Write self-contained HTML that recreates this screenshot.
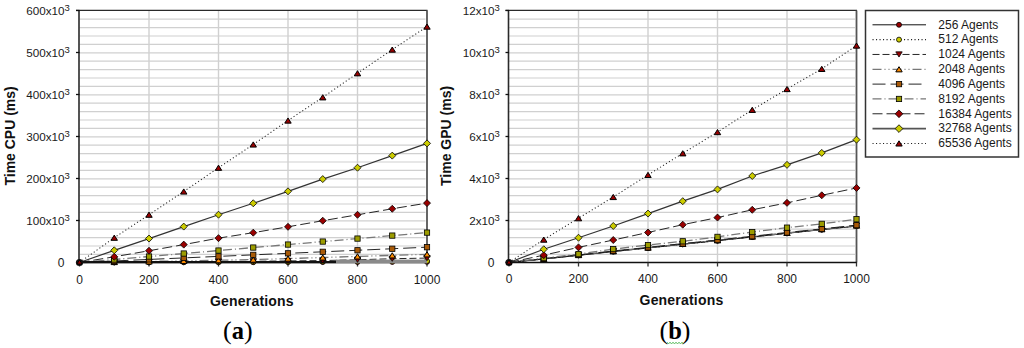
<!DOCTYPE html>
<html><head><meta charset="utf-8"><style>
html,body{margin:0;padding:0;background:#fff;width:1024px;height:348px;overflow:hidden}
svg{display:block;font-family:"Liberation Sans", sans-serif}
</style></head><body>
<svg width="1024" height="348" viewBox="0 0 1024 348">
<rect width="1024" height="348" fill="#fff"/>
<line x1="79.50" y1="254.40" x2="425.50" y2="254.40" stroke="#d0d0d0" stroke-width="1.2"/>
<line x1="79.50" y1="246.00" x2="425.50" y2="246.00" stroke="#d0d0d0" stroke-width="1.2"/>
<line x1="79.50" y1="237.60" x2="425.50" y2="237.60" stroke="#d0d0d0" stroke-width="1.2"/>
<line x1="79.50" y1="229.20" x2="425.50" y2="229.20" stroke="#d0d0d0" stroke-width="1.2"/>
<line x1="79.50" y1="220.80" x2="425.50" y2="220.80" stroke="#d0d0d0" stroke-width="1.2"/>
<line x1="79.50" y1="212.40" x2="425.50" y2="212.40" stroke="#d0d0d0" stroke-width="1.2"/>
<line x1="79.50" y1="204.00" x2="425.50" y2="204.00" stroke="#d0d0d0" stroke-width="1.2"/>
<line x1="79.50" y1="195.60" x2="425.50" y2="195.60" stroke="#d0d0d0" stroke-width="1.2"/>
<line x1="79.50" y1="187.20" x2="425.50" y2="187.20" stroke="#d0d0d0" stroke-width="1.2"/>
<line x1="79.50" y1="178.80" x2="425.50" y2="178.80" stroke="#d0d0d0" stroke-width="1.2"/>
<line x1="79.50" y1="170.40" x2="425.50" y2="170.40" stroke="#d0d0d0" stroke-width="1.2"/>
<line x1="79.50" y1="162.00" x2="425.50" y2="162.00" stroke="#d0d0d0" stroke-width="1.2"/>
<line x1="79.50" y1="153.60" x2="425.50" y2="153.60" stroke="#d0d0d0" stroke-width="1.2"/>
<line x1="79.50" y1="145.20" x2="425.50" y2="145.20" stroke="#d0d0d0" stroke-width="1.2"/>
<line x1="79.50" y1="136.80" x2="425.50" y2="136.80" stroke="#d0d0d0" stroke-width="1.2"/>
<line x1="79.50" y1="128.40" x2="425.50" y2="128.40" stroke="#d0d0d0" stroke-width="1.2"/>
<line x1="79.50" y1="120.00" x2="425.50" y2="120.00" stroke="#d0d0d0" stroke-width="1.2"/>
<line x1="79.50" y1="111.60" x2="425.50" y2="111.60" stroke="#d0d0d0" stroke-width="1.2"/>
<line x1="79.50" y1="103.20" x2="425.50" y2="103.20" stroke="#d0d0d0" stroke-width="1.2"/>
<line x1="79.50" y1="94.80" x2="425.50" y2="94.80" stroke="#d0d0d0" stroke-width="1.2"/>
<line x1="79.50" y1="86.40" x2="425.50" y2="86.40" stroke="#d0d0d0" stroke-width="1.2"/>
<line x1="79.50" y1="78.00" x2="425.50" y2="78.00" stroke="#d0d0d0" stroke-width="1.2"/>
<line x1="79.50" y1="69.60" x2="425.50" y2="69.60" stroke="#d0d0d0" stroke-width="1.2"/>
<line x1="79.50" y1="61.20" x2="425.50" y2="61.20" stroke="#d0d0d0" stroke-width="1.2"/>
<line x1="79.50" y1="52.80" x2="425.50" y2="52.80" stroke="#d0d0d0" stroke-width="1.2"/>
<line x1="79.50" y1="44.40" x2="425.50" y2="44.40" stroke="#d0d0d0" stroke-width="1.2"/>
<line x1="79.50" y1="36.00" x2="425.50" y2="36.00" stroke="#d0d0d0" stroke-width="1.2"/>
<line x1="79.50" y1="27.60" x2="425.50" y2="27.60" stroke="#d0d0d0" stroke-width="1.2"/>
<line x1="79.50" y1="19.20" x2="425.50" y2="19.20" stroke="#d0d0d0" stroke-width="1.2"/>
<line x1="149.00" y1="10.50" x2="149.00" y2="262.50" stroke="#d0d0d0" stroke-width="1.4"/>
<line x1="218.50" y1="10.50" x2="218.50" y2="262.50" stroke="#d0d0d0" stroke-width="1.4"/>
<line x1="288.00" y1="10.50" x2="288.00" y2="262.50" stroke="#d0d0d0" stroke-width="1.4"/>
<line x1="357.50" y1="10.50" x2="357.50" y2="262.50" stroke="#d0d0d0" stroke-width="1.4"/>
<line x1="76.00" y1="10.40" x2="427.50" y2="10.40" stroke="#2a2a2a" stroke-width="1.2"/>
<line x1="427.00" y1="10.50" x2="427.00" y2="262.50" stroke="#555" stroke-width="1.8"/>
<polyline points="79.50,262.50 114.25,262.44 149.00,262.37 183.75,262.31 218.50,262.25 253.25,262.19 288.00,262.12 322.75,262.06 357.50,262.00 392.25,261.93 427.00,261.87" fill="none" stroke="#111" stroke-width="1.00"/>
<polyline points="79.50,262.50 114.25,262.37 149.00,262.25 183.75,262.12 218.50,262.00 253.25,261.83 288.00,261.66 322.75,261.49 357.50,261.32 392.25,261.16 427.00,260.99" fill="none" stroke="#222" stroke-width="1.05" stroke-dasharray="1.1 2.4"/>
<polyline points="79.50,262.50 114.25,262.29 149.00,262.08 183.75,261.83 218.50,261.53 253.25,261.24 288.00,260.95 322.75,260.57 357.50,259.77 392.25,258.72 427.00,258.09" fill="none" stroke="#1a1a1a" stroke-width="0.95" stroke-dasharray="7 3"/>
<polyline points="79.50,262.50 114.25,262.00 149.00,261.45 183.75,260.86 218.50,260.23 253.25,259.60 288.00,258.59 322.75,257.50 357.50,256.41 392.25,255.36 427.00,254.31" fill="none" stroke="#777" stroke-width="1.30" stroke-dasharray="9 3 1 3 1 3"/>
<polyline points="79.50,262.50 114.25,260.97 149.00,259.44 183.75,257.91 218.50,256.38 253.25,254.86 288.00,253.33 322.75,251.80 357.50,250.27 392.25,248.74 427.00,247.21" fill="none" stroke="#1a1a1a" stroke-width="0.95" stroke-dasharray="13 5"/>
<polyline points="79.50,262.50 114.25,259.51 149.00,256.52 183.75,253.53 218.50,250.54 253.25,247.55 288.00,244.56 322.75,241.57 357.50,238.58 392.25,235.59 427.00,232.60" fill="none" stroke="#777" stroke-width="1.30" stroke-dasharray="9 3 1 3"/>
<polyline points="79.50,262.50 114.25,256.79 149.00,250.74 183.75,244.61 218.50,238.14 253.25,232.68 288.00,226.80 322.75,220.71 357.50,214.79 392.25,208.78 427.00,203.11" fill="none" stroke="#1a1a1a" stroke-width="0.95" stroke-dasharray="10 4"/>
<polyline points="79.50,262.50 114.25,250.32 149.00,238.56 183.75,226.59 218.50,214.70 253.25,203.28 288.00,191.31 322.75,179.09 357.50,167.71 392.25,155.61 427.00,143.39" fill="none" stroke="#333" stroke-width="1.20"/>
<polyline points="79.50,262.50 114.25,237.72 149.00,214.70 183.75,191.52 218.50,167.75 253.25,144.48 288.00,120.54 322.75,97.31 357.50,73.29 392.25,49.60 427.00,26.59" fill="none" stroke="#222" stroke-width="1.05" stroke-dasharray="1.1 2.4"/>
<line x1="79.00" y1="10.00" x2="79.00" y2="263.00" stroke="#2a2a2a" stroke-width="1.6"/>
<line x1="78.10" y1="262.50" x2="427.50" y2="262.50" stroke="#111" stroke-width="1.6"/>
<line x1="76.00" y1="262.50" x2="79.50" y2="262.50" stroke="#111" stroke-width="1.3"/>
<line x1="76.00" y1="220.50" x2="79.50" y2="220.50" stroke="#111" stroke-width="1.3"/>
<line x1="76.00" y1="178.50" x2="79.50" y2="178.50" stroke="#111" stroke-width="1.3"/>
<line x1="76.00" y1="136.50" x2="79.50" y2="136.50" stroke="#111" stroke-width="1.3"/>
<line x1="76.00" y1="94.50" x2="79.50" y2="94.50" stroke="#111" stroke-width="1.3"/>
<line x1="76.00" y1="52.50" x2="79.50" y2="52.50" stroke="#111" stroke-width="1.3"/>
<line x1="76.00" y1="10.50" x2="79.50" y2="10.50" stroke="#111" stroke-width="1.3"/>
<line x1="79.50" y1="262.50" x2="79.50" y2="266.50" stroke="#333" stroke-width="1.3"/>
<line x1="149.00" y1="262.50" x2="149.00" y2="266.50" stroke="#333" stroke-width="1.3"/>
<line x1="218.50" y1="262.50" x2="218.50" y2="266.50" stroke="#333" stroke-width="1.3"/>
<line x1="288.00" y1="262.50" x2="288.00" y2="266.50" stroke="#333" stroke-width="1.3"/>
<line x1="357.50" y1="262.50" x2="357.50" y2="266.50" stroke="#333" stroke-width="1.3"/>
<line x1="427.00" y1="262.50" x2="427.00" y2="266.50" stroke="#333" stroke-width="1.3"/>
<circle cx="114.25" cy="262.44" r="2.50" fill="#990000" stroke="#000" stroke-width="0.8"/>
<circle cx="149.00" cy="262.37" r="2.50" fill="#990000" stroke="#000" stroke-width="0.8"/>
<circle cx="183.75" cy="262.31" r="2.50" fill="#990000" stroke="#000" stroke-width="0.8"/>
<circle cx="218.50" cy="262.25" r="2.50" fill="#990000" stroke="#000" stroke-width="0.8"/>
<circle cx="253.25" cy="262.19" r="2.50" fill="#990000" stroke="#000" stroke-width="0.8"/>
<circle cx="288.00" cy="262.12" r="2.50" fill="#990000" stroke="#000" stroke-width="0.8"/>
<circle cx="322.75" cy="262.06" r="2.50" fill="#990000" stroke="#000" stroke-width="0.8"/>
<circle cx="357.50" cy="262.00" r="2.50" fill="#990000" stroke="#000" stroke-width="0.8"/>
<circle cx="392.25" cy="261.93" r="2.50" fill="#990000" stroke="#000" stroke-width="0.8"/>
<circle cx="427.00" cy="261.87" r="2.50" fill="#990000" stroke="#000" stroke-width="0.8"/>
<circle cx="114.25" cy="262.37" r="2.50" fill="#cccc00" stroke="#000" stroke-width="0.8"/>
<circle cx="149.00" cy="262.25" r="2.50" fill="#cccc00" stroke="#000" stroke-width="0.8"/>
<circle cx="183.75" cy="262.12" r="2.50" fill="#cccc00" stroke="#000" stroke-width="0.8"/>
<circle cx="218.50" cy="262.00" r="2.50" fill="#cccc00" stroke="#000" stroke-width="0.8"/>
<circle cx="253.25" cy="261.83" r="2.50" fill="#cccc00" stroke="#000" stroke-width="0.8"/>
<circle cx="288.00" cy="261.66" r="2.50" fill="#cccc00" stroke="#000" stroke-width="0.8"/>
<circle cx="322.75" cy="261.49" r="2.50" fill="#cccc00" stroke="#000" stroke-width="0.8"/>
<circle cx="357.50" cy="261.32" r="2.50" fill="#cccc00" stroke="#000" stroke-width="0.8"/>
<circle cx="392.25" cy="261.16" r="2.50" fill="#cccc00" stroke="#000" stroke-width="0.8"/>
<circle cx="427.00" cy="260.99" r="2.50" fill="#cccc00" stroke="#000" stroke-width="0.8"/>
<rect x="80" y="261" width="256" height="2.2" fill="#111"/>
<rect x="336" y="259.6" width="91" height="3.7" fill="#8a8a8a"/>
<path d="M114.25 264.89L117.45 259.69L111.05 259.69Z" fill="#990000" stroke="#000" stroke-width="0.8"/>
<path d="M149.00 264.68L152.20 259.48L145.80 259.48Z" fill="#990000" stroke="#000" stroke-width="0.8"/>
<path d="M183.75 264.43L186.95 259.23L180.55 259.23Z" fill="#990000" stroke="#000" stroke-width="0.8"/>
<path d="M218.50 264.13L221.70 258.93L215.30 258.93Z" fill="#990000" stroke="#000" stroke-width="0.8"/>
<path d="M253.25 263.84L256.45 258.64L250.05 258.64Z" fill="#990000" stroke="#000" stroke-width="0.8"/>
<path d="M288.00 263.55L291.20 258.35L284.80 258.35Z" fill="#990000" stroke="#000" stroke-width="0.8"/>
<path d="M322.75 263.17L325.95 257.97L319.55 257.97Z" fill="#990000" stroke="#000" stroke-width="0.8"/>
<path d="M357.50 262.37L360.70 257.17L354.30 257.17Z" fill="#990000" stroke="#000" stroke-width="0.8"/>
<path d="M392.25 261.32L395.45 256.12L389.05 256.12Z" fill="#990000" stroke="#000" stroke-width="0.8"/>
<path d="M427.00 260.69L430.20 255.49L423.80 255.49Z" fill="#990000" stroke="#000" stroke-width="0.8"/>
<path d="M114.25 259.40L117.45 264.60L111.05 264.60Z" fill="#ff8c00" stroke="#000" stroke-width="1.0"/>
<path d="M149.00 258.85L152.20 264.05L145.80 264.05Z" fill="#ff8c00" stroke="#000" stroke-width="1.0"/>
<path d="M183.75 258.26L186.95 263.46L180.55 263.46Z" fill="#ff8c00" stroke="#000" stroke-width="1.0"/>
<path d="M218.50 257.63L221.70 262.83L215.30 262.83Z" fill="#ff8c00" stroke="#000" stroke-width="1.0"/>
<path d="M253.25 257.00L256.45 262.20L250.05 262.20Z" fill="#ff8c00" stroke="#000" stroke-width="1.0"/>
<path d="M288.00 255.99L291.20 261.19L284.80 261.19Z" fill="#ff8c00" stroke="#000" stroke-width="1.0"/>
<path d="M322.75 254.90L325.95 260.10L319.55 260.10Z" fill="#ff8c00" stroke="#000" stroke-width="1.0"/>
<path d="M357.50 253.81L360.70 259.01L354.30 259.01Z" fill="#ff8c00" stroke="#000" stroke-width="1.0"/>
<path d="M392.25 252.76L395.45 257.96L389.05 257.96Z" fill="#ff8c00" stroke="#000" stroke-width="1.0"/>
<path d="M427.00 251.71L430.20 256.91L423.80 256.91Z" fill="#ff8c00" stroke="#000" stroke-width="1.0"/>
<rect x="111.60" y="258.32" width="5.30" height="5.30" fill="#a85a08" stroke="#000" stroke-width="0.8"/>
<rect x="146.35" y="256.79" width="5.30" height="5.30" fill="#a85a08" stroke="#000" stroke-width="0.8"/>
<rect x="181.10" y="255.26" width="5.30" height="5.30" fill="#a85a08" stroke="#000" stroke-width="0.8"/>
<rect x="215.85" y="253.73" width="5.30" height="5.30" fill="#a85a08" stroke="#000" stroke-width="0.8"/>
<rect x="250.60" y="252.21" width="5.30" height="5.30" fill="#a85a08" stroke="#000" stroke-width="0.8"/>
<rect x="285.35" y="250.68" width="5.30" height="5.30" fill="#a85a08" stroke="#000" stroke-width="0.8"/>
<rect x="320.10" y="249.15" width="5.30" height="5.30" fill="#a85a08" stroke="#000" stroke-width="0.8"/>
<rect x="354.85" y="247.62" width="5.30" height="5.30" fill="#a85a08" stroke="#000" stroke-width="0.8"/>
<rect x="389.60" y="246.09" width="5.30" height="5.30" fill="#a85a08" stroke="#000" stroke-width="0.8"/>
<rect x="424.35" y="244.56" width="5.30" height="5.30" fill="#a85a08" stroke="#000" stroke-width="0.8"/>
<rect x="111.60" y="256.86" width="5.30" height="5.30" fill="#9c9c00" stroke="#000" stroke-width="0.8"/>
<rect x="146.35" y="253.87" width="5.30" height="5.30" fill="#9c9c00" stroke="#000" stroke-width="0.8"/>
<rect x="181.10" y="250.88" width="5.30" height="5.30" fill="#9c9c00" stroke="#000" stroke-width="0.8"/>
<rect x="215.85" y="247.89" width="5.30" height="5.30" fill="#9c9c00" stroke="#000" stroke-width="0.8"/>
<rect x="250.60" y="244.90" width="5.30" height="5.30" fill="#9c9c00" stroke="#000" stroke-width="0.8"/>
<rect x="285.35" y="241.91" width="5.30" height="5.30" fill="#9c9c00" stroke="#000" stroke-width="0.8"/>
<rect x="320.10" y="238.92" width="5.30" height="5.30" fill="#9c9c00" stroke="#000" stroke-width="0.8"/>
<rect x="354.85" y="235.93" width="5.30" height="5.30" fill="#9c9c00" stroke="#000" stroke-width="0.8"/>
<rect x="389.60" y="232.94" width="5.30" height="5.30" fill="#9c9c00" stroke="#000" stroke-width="0.8"/>
<rect x="424.35" y="229.95" width="5.30" height="5.30" fill="#9c9c00" stroke="#000" stroke-width="0.8"/>
<path d="M114.25 253.29L117.75 256.79L114.25 260.29L110.75 256.79Z" fill="#990000" stroke="#000" stroke-width="0.8"/>
<path d="M149.00 247.24L152.50 250.74L149.00 254.24L145.50 250.74Z" fill="#990000" stroke="#000" stroke-width="0.8"/>
<path d="M183.75 241.11L187.25 244.61L183.75 248.11L180.25 244.61Z" fill="#990000" stroke="#000" stroke-width="0.8"/>
<path d="M218.50 234.64L222.00 238.14L218.50 241.64L215.00 238.14Z" fill="#990000" stroke="#000" stroke-width="0.8"/>
<path d="M253.25 229.18L256.75 232.68L253.25 236.18L249.75 232.68Z" fill="#990000" stroke="#000" stroke-width="0.8"/>
<path d="M288.00 223.30L291.50 226.80L288.00 230.30L284.50 226.80Z" fill="#990000" stroke="#000" stroke-width="0.8"/>
<path d="M322.75 217.21L326.25 220.71L322.75 224.21L319.25 220.71Z" fill="#990000" stroke="#000" stroke-width="0.8"/>
<path d="M357.50 211.29L361.00 214.79L357.50 218.29L354.00 214.79Z" fill="#990000" stroke="#000" stroke-width="0.8"/>
<path d="M392.25 205.28L395.75 208.78L392.25 212.28L388.75 208.78Z" fill="#990000" stroke="#000" stroke-width="0.8"/>
<path d="M427.00 199.61L430.50 203.11L427.00 206.61L423.50 203.11Z" fill="#990000" stroke="#000" stroke-width="0.8"/>
<path d="M114.25 246.82L117.75 250.32L114.25 253.82L110.75 250.32Z" fill="#cccc00" stroke="#000" stroke-width="0.8"/>
<path d="M149.00 235.06L152.50 238.56L149.00 242.06L145.50 238.56Z" fill="#cccc00" stroke="#000" stroke-width="0.8"/>
<path d="M183.75 223.09L187.25 226.59L183.75 230.09L180.25 226.59Z" fill="#cccc00" stroke="#000" stroke-width="0.8"/>
<path d="M218.50 211.20L222.00 214.70L218.50 218.20L215.00 214.70Z" fill="#cccc00" stroke="#000" stroke-width="0.8"/>
<path d="M253.25 199.78L256.75 203.28L253.25 206.78L249.75 203.28Z" fill="#cccc00" stroke="#000" stroke-width="0.8"/>
<path d="M288.00 187.81L291.50 191.31L288.00 194.81L284.50 191.31Z" fill="#cccc00" stroke="#000" stroke-width="0.8"/>
<path d="M322.75 175.59L326.25 179.09L322.75 182.59L319.25 179.09Z" fill="#cccc00" stroke="#000" stroke-width="0.8"/>
<path d="M357.50 164.21L361.00 167.71L357.50 171.21L354.00 167.71Z" fill="#cccc00" stroke="#000" stroke-width="0.8"/>
<path d="M392.25 152.11L395.75 155.61L392.25 159.11L388.75 155.61Z" fill="#cccc00" stroke="#000" stroke-width="0.8"/>
<path d="M427.00 139.89L430.50 143.39L427.00 146.89L423.50 143.39Z" fill="#cccc00" stroke="#000" stroke-width="0.8"/>
<path d="M114.25 235.12L117.45 240.32L111.05 240.32Z" fill="#990000" stroke="#000" stroke-width="1.0"/>
<path d="M149.00 212.10L152.20 217.30L145.80 217.30Z" fill="#990000" stroke="#000" stroke-width="1.0"/>
<path d="M183.75 188.92L186.95 194.12L180.55 194.12Z" fill="#990000" stroke="#000" stroke-width="1.0"/>
<path d="M218.50 165.15L221.70 170.35L215.30 170.35Z" fill="#990000" stroke="#000" stroke-width="1.0"/>
<path d="M253.25 141.88L256.45 147.08L250.05 147.08Z" fill="#990000" stroke="#000" stroke-width="1.0"/>
<path d="M288.00 117.94L291.20 123.14L284.80 123.14Z" fill="#990000" stroke="#000" stroke-width="1.0"/>
<path d="M322.75 94.71L325.95 99.91L319.55 99.91Z" fill="#990000" stroke="#000" stroke-width="1.0"/>
<path d="M357.50 70.69L360.70 75.89L354.30 75.89Z" fill="#990000" stroke="#000" stroke-width="1.0"/>
<path d="M392.25 47.00L395.45 52.20L389.05 52.20Z" fill="#990000" stroke="#000" stroke-width="1.0"/>
<path d="M427.00 23.99L430.20 29.19L423.80 29.19Z" fill="#990000" stroke="#000" stroke-width="1.0"/>
<circle cx="79.50" cy="262.50" r="3.6" fill="#111"/>
<path d="M79.50 259.92L82.06 264.08L76.94 264.08Z" fill="#990000" stroke="#000" stroke-width="1.0"/>
<text x="64.50" y="266.90" text-anchor="end" font-size="12" fill="#1a1a1a">0</text>
<text x="69.80" y="224.90" text-anchor="end" font-size="11.7" fill="#1a1a1a">100x10<tspan font-size="9.5" dy="-4.0">3</tspan></text>
<text x="69.80" y="182.90" text-anchor="end" font-size="11.7" fill="#1a1a1a">200x10<tspan font-size="9.5" dy="-4.0">3</tspan></text>
<text x="69.80" y="140.90" text-anchor="end" font-size="11.7" fill="#1a1a1a">300x10<tspan font-size="9.5" dy="-4.0">3</tspan></text>
<text x="69.80" y="98.90" text-anchor="end" font-size="11.7" fill="#1a1a1a">400x10<tspan font-size="9.5" dy="-4.0">3</tspan></text>
<text x="69.80" y="56.90" text-anchor="end" font-size="11.7" fill="#1a1a1a">500x10<tspan font-size="9.5" dy="-4.0">3</tspan></text>
<text x="69.80" y="14.90" text-anchor="end" font-size="11.7" fill="#1a1a1a">600x10<tspan font-size="9.5" dy="-4.0">3</tspan></text>
<text x="79.50" y="283.70" text-anchor="middle" font-size="12" fill="#1a1a1a">0</text>
<text x="149.00" y="283.70" text-anchor="middle" font-size="12" fill="#1a1a1a">200</text>
<text x="218.50" y="283.70" text-anchor="middle" font-size="12" fill="#1a1a1a">400</text>
<text x="288.00" y="283.70" text-anchor="middle" font-size="12" fill="#1a1a1a">600</text>
<text x="357.50" y="283.70" text-anchor="middle" font-size="12" fill="#1a1a1a">800</text>
<text x="427.00" y="283.70" text-anchor="middle" font-size="12" fill="#1a1a1a">1000</text>
<text x="251.90" y="305.80" text-anchor="middle" font-size="14" font-weight="bold" letter-spacing="0.2" fill="#111">Generations</text>
<text transform="translate(14.70,135.9) rotate(-90)" text-anchor="middle" font-size="14" font-weight="bold" fill="#111">Time CPU (ms)</text>
<line x1="509.00" y1="254.40" x2="855.00" y2="254.40" stroke="#d0d0d0" stroke-width="1.2"/>
<line x1="509.00" y1="246.00" x2="855.00" y2="246.00" stroke="#d0d0d0" stroke-width="1.2"/>
<line x1="509.00" y1="237.60" x2="855.00" y2="237.60" stroke="#d0d0d0" stroke-width="1.2"/>
<line x1="509.00" y1="229.20" x2="855.00" y2="229.20" stroke="#d0d0d0" stroke-width="1.2"/>
<line x1="509.00" y1="220.80" x2="855.00" y2="220.80" stroke="#d0d0d0" stroke-width="1.2"/>
<line x1="509.00" y1="212.40" x2="855.00" y2="212.40" stroke="#d0d0d0" stroke-width="1.2"/>
<line x1="509.00" y1="204.00" x2="855.00" y2="204.00" stroke="#d0d0d0" stroke-width="1.2"/>
<line x1="509.00" y1="195.60" x2="855.00" y2="195.60" stroke="#d0d0d0" stroke-width="1.2"/>
<line x1="509.00" y1="187.20" x2="855.00" y2="187.20" stroke="#d0d0d0" stroke-width="1.2"/>
<line x1="509.00" y1="178.80" x2="855.00" y2="178.80" stroke="#d0d0d0" stroke-width="1.2"/>
<line x1="509.00" y1="170.40" x2="855.00" y2="170.40" stroke="#d0d0d0" stroke-width="1.2"/>
<line x1="509.00" y1="162.00" x2="855.00" y2="162.00" stroke="#d0d0d0" stroke-width="1.2"/>
<line x1="509.00" y1="153.60" x2="855.00" y2="153.60" stroke="#d0d0d0" stroke-width="1.2"/>
<line x1="509.00" y1="145.20" x2="855.00" y2="145.20" stroke="#d0d0d0" stroke-width="1.2"/>
<line x1="509.00" y1="136.80" x2="855.00" y2="136.80" stroke="#d0d0d0" stroke-width="1.2"/>
<line x1="509.00" y1="128.40" x2="855.00" y2="128.40" stroke="#d0d0d0" stroke-width="1.2"/>
<line x1="509.00" y1="120.00" x2="855.00" y2="120.00" stroke="#d0d0d0" stroke-width="1.2"/>
<line x1="509.00" y1="111.60" x2="855.00" y2="111.60" stroke="#d0d0d0" stroke-width="1.2"/>
<line x1="509.00" y1="103.20" x2="855.00" y2="103.20" stroke="#d0d0d0" stroke-width="1.2"/>
<line x1="509.00" y1="94.80" x2="855.00" y2="94.80" stroke="#d0d0d0" stroke-width="1.2"/>
<line x1="509.00" y1="86.40" x2="855.00" y2="86.40" stroke="#d0d0d0" stroke-width="1.2"/>
<line x1="509.00" y1="78.00" x2="855.00" y2="78.00" stroke="#d0d0d0" stroke-width="1.2"/>
<line x1="509.00" y1="69.60" x2="855.00" y2="69.60" stroke="#d0d0d0" stroke-width="1.2"/>
<line x1="509.00" y1="61.20" x2="855.00" y2="61.20" stroke="#d0d0d0" stroke-width="1.2"/>
<line x1="509.00" y1="52.80" x2="855.00" y2="52.80" stroke="#d0d0d0" stroke-width="1.2"/>
<line x1="509.00" y1="44.40" x2="855.00" y2="44.40" stroke="#d0d0d0" stroke-width="1.2"/>
<line x1="509.00" y1="36.00" x2="855.00" y2="36.00" stroke="#d0d0d0" stroke-width="1.2"/>
<line x1="509.00" y1="27.60" x2="855.00" y2="27.60" stroke="#d0d0d0" stroke-width="1.2"/>
<line x1="509.00" y1="19.20" x2="855.00" y2="19.20" stroke="#d0d0d0" stroke-width="1.2"/>
<line x1="578.50" y1="10.50" x2="578.50" y2="262.50" stroke="#d0d0d0" stroke-width="1.4"/>
<line x1="648.00" y1="10.50" x2="648.00" y2="262.50" stroke="#d0d0d0" stroke-width="1.4"/>
<line x1="717.50" y1="10.50" x2="717.50" y2="262.50" stroke="#d0d0d0" stroke-width="1.4"/>
<line x1="787.00" y1="10.50" x2="787.00" y2="262.50" stroke="#d0d0d0" stroke-width="1.4"/>
<line x1="505.50" y1="10.40" x2="857.00" y2="10.40" stroke="#2a2a2a" stroke-width="1.2"/>
<line x1="856.50" y1="10.50" x2="856.50" y2="262.50" stroke="#555" stroke-width="1.8"/>
<polyline points="509.00,262.50 543.75,259.04 578.50,255.36 613.25,251.58 648.00,248.01 682.75,244.34 717.50,240.66 752.25,236.99 787.00,233.31 821.75,229.63 856.50,226.17" fill="none" stroke="#111" stroke-width="1.00"/>
<polyline points="509.00,262.50 543.75,258.93 578.50,255.25 613.25,251.47 648.00,247.91 682.75,244.23 717.50,240.56 752.25,236.88 787.00,233.20 821.75,229.53 856.50,225.96" fill="none" stroke="#222" stroke-width="1.05" stroke-dasharray="1.1 2.4"/>
<polyline points="509.00,262.50 543.75,258.93 578.50,255.15 613.25,251.37 648.00,247.80 682.75,244.12 717.50,240.45 752.25,236.78 787.00,233.10 821.75,229.43 856.50,225.75" fill="none" stroke="#1a1a1a" stroke-width="0.95" stroke-dasharray="7 3"/>
<polyline points="509.00,262.50 543.75,258.82 578.50,255.04 613.25,251.26 648.00,247.59 682.75,243.91 717.50,240.24 752.25,236.56 787.00,232.89 821.75,229.22 856.50,225.54" fill="none" stroke="#777" stroke-width="1.30" stroke-dasharray="9 3 1 3 1 3"/>
<polyline points="509.00,262.50 543.75,258.72 578.50,254.94 613.25,250.95 648.00,247.38 682.75,243.60 717.50,240.03 752.25,236.25 787.00,232.47 821.75,228.90 856.50,225.12" fill="none" stroke="#1a1a1a" stroke-width="0.95" stroke-dasharray="13 5"/>
<polyline points="509.00,262.50 543.75,258.09 578.50,254.10 613.25,249.06 648.00,245.07 682.75,241.29 717.50,236.88 752.25,232.05 787.00,227.64 821.75,223.86 856.50,219.24" fill="none" stroke="#777" stroke-width="1.30" stroke-dasharray="9 3 1 3"/>
<polyline points="509.00,262.50 543.75,255.15 578.50,247.38 613.25,240.03 648.00,232.47 682.75,224.70 717.50,217.56 752.25,209.79 787.00,202.86 821.75,195.30 856.50,187.95" fill="none" stroke="#1a1a1a" stroke-width="0.95" stroke-dasharray="10 4"/>
<polyline points="509.00,262.50 543.75,249.27 578.50,237.72 613.25,225.96 648.00,213.57 682.75,201.18 717.50,189.42 752.25,175.98 787.00,164.85 821.75,152.88 856.50,139.65" fill="none" stroke="#333" stroke-width="1.20"/>
<polyline points="509.00,262.50 543.75,239.61 578.50,218.19 613.25,196.98 648.00,174.93 682.75,153.30 717.50,132.09 752.25,109.83 787.00,89.04 821.75,68.88 856.50,45.57" fill="none" stroke="#222" stroke-width="1.05" stroke-dasharray="1.1 2.4"/>
<line x1="508.50" y1="10.00" x2="508.50" y2="263.00" stroke="#2a2a2a" stroke-width="1.6"/>
<line x1="507.60" y1="262.50" x2="857.00" y2="262.50" stroke="#111" stroke-width="1.6"/>
<line x1="505.50" y1="262.50" x2="509.00" y2="262.50" stroke="#111" stroke-width="1.3"/>
<line x1="505.50" y1="220.50" x2="509.00" y2="220.50" stroke="#111" stroke-width="1.3"/>
<line x1="505.50" y1="178.50" x2="509.00" y2="178.50" stroke="#111" stroke-width="1.3"/>
<line x1="505.50" y1="136.50" x2="509.00" y2="136.50" stroke="#111" stroke-width="1.3"/>
<line x1="505.50" y1="94.50" x2="509.00" y2="94.50" stroke="#111" stroke-width="1.3"/>
<line x1="505.50" y1="52.50" x2="509.00" y2="52.50" stroke="#111" stroke-width="1.3"/>
<line x1="505.50" y1="10.50" x2="509.00" y2="10.50" stroke="#111" stroke-width="1.3"/>
<line x1="509.00" y1="262.50" x2="509.00" y2="266.50" stroke="#333" stroke-width="1.3"/>
<line x1="578.50" y1="262.50" x2="578.50" y2="266.50" stroke="#333" stroke-width="1.3"/>
<line x1="648.00" y1="262.50" x2="648.00" y2="266.50" stroke="#333" stroke-width="1.3"/>
<line x1="717.50" y1="262.50" x2="717.50" y2="266.50" stroke="#333" stroke-width="1.3"/>
<line x1="787.00" y1="262.50" x2="787.00" y2="266.50" stroke="#333" stroke-width="1.3"/>
<line x1="856.50" y1="262.50" x2="856.50" y2="266.50" stroke="#333" stroke-width="1.3"/>
<circle cx="543.75" cy="259.04" r="2.50" fill="#990000" stroke="#000" stroke-width="0.8"/>
<circle cx="578.50" cy="255.36" r="2.50" fill="#990000" stroke="#000" stroke-width="0.8"/>
<circle cx="613.25" cy="251.58" r="2.50" fill="#990000" stroke="#000" stroke-width="0.8"/>
<circle cx="648.00" cy="248.01" r="2.50" fill="#990000" stroke="#000" stroke-width="0.8"/>
<circle cx="682.75" cy="244.34" r="2.50" fill="#990000" stroke="#000" stroke-width="0.8"/>
<circle cx="717.50" cy="240.66" r="2.50" fill="#990000" stroke="#000" stroke-width="0.8"/>
<circle cx="752.25" cy="236.99" r="2.50" fill="#990000" stroke="#000" stroke-width="0.8"/>
<circle cx="787.00" cy="233.31" r="2.50" fill="#990000" stroke="#000" stroke-width="0.8"/>
<circle cx="821.75" cy="229.63" r="2.50" fill="#990000" stroke="#000" stroke-width="0.8"/>
<circle cx="856.50" cy="226.17" r="2.50" fill="#990000" stroke="#000" stroke-width="0.8"/>
<circle cx="543.75" cy="258.93" r="2.50" fill="#cccc00" stroke="#000" stroke-width="0.8"/>
<circle cx="578.50" cy="255.25" r="2.50" fill="#cccc00" stroke="#000" stroke-width="0.8"/>
<circle cx="613.25" cy="251.47" r="2.50" fill="#cccc00" stroke="#000" stroke-width="0.8"/>
<circle cx="648.00" cy="247.91" r="2.50" fill="#cccc00" stroke="#000" stroke-width="0.8"/>
<circle cx="682.75" cy="244.23" r="2.50" fill="#cccc00" stroke="#000" stroke-width="0.8"/>
<circle cx="717.50" cy="240.56" r="2.50" fill="#cccc00" stroke="#000" stroke-width="0.8"/>
<circle cx="752.25" cy="236.88" r="2.50" fill="#cccc00" stroke="#000" stroke-width="0.8"/>
<circle cx="787.00" cy="233.20" r="2.50" fill="#cccc00" stroke="#000" stroke-width="0.8"/>
<circle cx="821.75" cy="229.53" r="2.50" fill="#cccc00" stroke="#000" stroke-width="0.8"/>
<circle cx="856.50" cy="225.96" r="2.50" fill="#cccc00" stroke="#000" stroke-width="0.8"/>
<path d="M543.75 261.53L546.95 256.33L540.55 256.33Z" fill="#990000" stroke="#000" stroke-width="0.8"/>
<path d="M578.50 257.75L581.70 252.55L575.30 252.55Z" fill="#990000" stroke="#000" stroke-width="0.8"/>
<path d="M613.25 253.97L616.45 248.77L610.05 248.77Z" fill="#990000" stroke="#000" stroke-width="0.8"/>
<path d="M648.00 250.40L651.20 245.20L644.80 245.20Z" fill="#990000" stroke="#000" stroke-width="0.8"/>
<path d="M682.75 246.72L685.95 241.53L679.55 241.53Z" fill="#990000" stroke="#000" stroke-width="0.8"/>
<path d="M717.50 243.05L720.70 237.85L714.30 237.85Z" fill="#990000" stroke="#000" stroke-width="0.8"/>
<path d="M752.25 239.38L755.45 234.18L749.05 234.18Z" fill="#990000" stroke="#000" stroke-width="0.8"/>
<path d="M787.00 235.70L790.20 230.50L783.80 230.50Z" fill="#990000" stroke="#000" stroke-width="0.8"/>
<path d="M821.75 232.03L824.95 226.83L818.55 226.83Z" fill="#990000" stroke="#000" stroke-width="0.8"/>
<path d="M856.50 228.35L859.70 223.15L853.30 223.15Z" fill="#990000" stroke="#000" stroke-width="0.8"/>
<path d="M543.75 256.22L546.95 261.43L540.55 261.43Z" fill="#ff8c00" stroke="#000" stroke-width="1.0"/>
<path d="M578.50 252.44L581.70 257.64L575.30 257.64Z" fill="#ff8c00" stroke="#000" stroke-width="1.0"/>
<path d="M613.25 248.66L616.45 253.86L610.05 253.86Z" fill="#ff8c00" stroke="#000" stroke-width="1.0"/>
<path d="M648.00 244.99L651.20 250.19L644.80 250.19Z" fill="#ff8c00" stroke="#000" stroke-width="1.0"/>
<path d="M682.75 241.31L685.95 246.51L679.55 246.51Z" fill="#ff8c00" stroke="#000" stroke-width="1.0"/>
<path d="M717.50 237.64L720.70 242.84L714.30 242.84Z" fill="#ff8c00" stroke="#000" stroke-width="1.0"/>
<path d="M752.25 233.97L755.45 239.16L749.05 239.16Z" fill="#ff8c00" stroke="#000" stroke-width="1.0"/>
<path d="M787.00 230.29L790.20 235.49L783.80 235.49Z" fill="#ff8c00" stroke="#000" stroke-width="1.0"/>
<path d="M821.75 226.62L824.95 231.81L818.55 231.81Z" fill="#ff8c00" stroke="#000" stroke-width="1.0"/>
<path d="M856.50 222.94L859.70 228.14L853.30 228.14Z" fill="#ff8c00" stroke="#000" stroke-width="1.0"/>
<rect x="541.10" y="256.07" width="5.30" height="5.30" fill="#a85a08" stroke="#000" stroke-width="0.8"/>
<rect x="575.85" y="252.29" width="5.30" height="5.30" fill="#a85a08" stroke="#000" stroke-width="0.8"/>
<rect x="610.60" y="248.30" width="5.30" height="5.30" fill="#a85a08" stroke="#000" stroke-width="0.8"/>
<rect x="645.35" y="244.73" width="5.30" height="5.30" fill="#a85a08" stroke="#000" stroke-width="0.8"/>
<rect x="680.10" y="240.95" width="5.30" height="5.30" fill="#a85a08" stroke="#000" stroke-width="0.8"/>
<rect x="714.85" y="237.38" width="5.30" height="5.30" fill="#a85a08" stroke="#000" stroke-width="0.8"/>
<rect x="749.60" y="233.60" width="5.30" height="5.30" fill="#a85a08" stroke="#000" stroke-width="0.8"/>
<rect x="784.35" y="229.82" width="5.30" height="5.30" fill="#a85a08" stroke="#000" stroke-width="0.8"/>
<rect x="819.10" y="226.25" width="5.30" height="5.30" fill="#a85a08" stroke="#000" stroke-width="0.8"/>
<rect x="853.85" y="222.47" width="5.30" height="5.30" fill="#a85a08" stroke="#000" stroke-width="0.8"/>
<rect x="541.10" y="255.44" width="5.30" height="5.30" fill="#9c9c00" stroke="#000" stroke-width="0.8"/>
<rect x="575.85" y="251.45" width="5.30" height="5.30" fill="#9c9c00" stroke="#000" stroke-width="0.8"/>
<rect x="610.60" y="246.41" width="5.30" height="5.30" fill="#9c9c00" stroke="#000" stroke-width="0.8"/>
<rect x="645.35" y="242.42" width="5.30" height="5.30" fill="#9c9c00" stroke="#000" stroke-width="0.8"/>
<rect x="680.10" y="238.64" width="5.30" height="5.30" fill="#9c9c00" stroke="#000" stroke-width="0.8"/>
<rect x="714.85" y="234.23" width="5.30" height="5.30" fill="#9c9c00" stroke="#000" stroke-width="0.8"/>
<rect x="749.60" y="229.40" width="5.30" height="5.30" fill="#9c9c00" stroke="#000" stroke-width="0.8"/>
<rect x="784.35" y="224.99" width="5.30" height="5.30" fill="#9c9c00" stroke="#000" stroke-width="0.8"/>
<rect x="819.10" y="221.21" width="5.30" height="5.30" fill="#9c9c00" stroke="#000" stroke-width="0.8"/>
<rect x="853.85" y="216.59" width="5.30" height="5.30" fill="#9c9c00" stroke="#000" stroke-width="0.8"/>
<path d="M543.75 251.65L547.25 255.15L543.75 258.65L540.25 255.15Z" fill="#990000" stroke="#000" stroke-width="0.8"/>
<path d="M578.50 243.88L582.00 247.38L578.50 250.88L575.00 247.38Z" fill="#990000" stroke="#000" stroke-width="0.8"/>
<path d="M613.25 236.53L616.75 240.03L613.25 243.53L609.75 240.03Z" fill="#990000" stroke="#000" stroke-width="0.8"/>
<path d="M648.00 228.97L651.50 232.47L648.00 235.97L644.50 232.47Z" fill="#990000" stroke="#000" stroke-width="0.8"/>
<path d="M682.75 221.20L686.25 224.70L682.75 228.20L679.25 224.70Z" fill="#990000" stroke="#000" stroke-width="0.8"/>
<path d="M717.50 214.06L721.00 217.56L717.50 221.06L714.00 217.56Z" fill="#990000" stroke="#000" stroke-width="0.8"/>
<path d="M752.25 206.29L755.75 209.79L752.25 213.29L748.75 209.79Z" fill="#990000" stroke="#000" stroke-width="0.8"/>
<path d="M787.00 199.36L790.50 202.86L787.00 206.36L783.50 202.86Z" fill="#990000" stroke="#000" stroke-width="0.8"/>
<path d="M821.75 191.80L825.25 195.30L821.75 198.80L818.25 195.30Z" fill="#990000" stroke="#000" stroke-width="0.8"/>
<path d="M856.50 184.45L860.00 187.95L856.50 191.45L853.00 187.95Z" fill="#990000" stroke="#000" stroke-width="0.8"/>
<path d="M543.75 245.77L547.25 249.27L543.75 252.77L540.25 249.27Z" fill="#cccc00" stroke="#000" stroke-width="0.8"/>
<path d="M578.50 234.22L582.00 237.72L578.50 241.22L575.00 237.72Z" fill="#cccc00" stroke="#000" stroke-width="0.8"/>
<path d="M613.25 222.46L616.75 225.96L613.25 229.46L609.75 225.96Z" fill="#cccc00" stroke="#000" stroke-width="0.8"/>
<path d="M648.00 210.07L651.50 213.57L648.00 217.07L644.50 213.57Z" fill="#cccc00" stroke="#000" stroke-width="0.8"/>
<path d="M682.75 197.68L686.25 201.18L682.75 204.68L679.25 201.18Z" fill="#cccc00" stroke="#000" stroke-width="0.8"/>
<path d="M717.50 185.92L721.00 189.42L717.50 192.92L714.00 189.42Z" fill="#cccc00" stroke="#000" stroke-width="0.8"/>
<path d="M752.25 172.48L755.75 175.98L752.25 179.48L748.75 175.98Z" fill="#cccc00" stroke="#000" stroke-width="0.8"/>
<path d="M787.00 161.35L790.50 164.85L787.00 168.35L783.50 164.85Z" fill="#cccc00" stroke="#000" stroke-width="0.8"/>
<path d="M821.75 149.38L825.25 152.88L821.75 156.38L818.25 152.88Z" fill="#cccc00" stroke="#000" stroke-width="0.8"/>
<path d="M856.50 136.15L860.00 139.65L856.50 143.15L853.00 139.65Z" fill="#cccc00" stroke="#000" stroke-width="0.8"/>
<path d="M543.75 237.01L546.95 242.21L540.55 242.21Z" fill="#990000" stroke="#000" stroke-width="1.0"/>
<path d="M578.50 215.59L581.70 220.79L575.30 220.79Z" fill="#990000" stroke="#000" stroke-width="1.0"/>
<path d="M613.25 194.38L616.45 199.58L610.05 199.58Z" fill="#990000" stroke="#000" stroke-width="1.0"/>
<path d="M648.00 172.33L651.20 177.53L644.80 177.53Z" fill="#990000" stroke="#000" stroke-width="1.0"/>
<path d="M682.75 150.70L685.95 155.90L679.55 155.90Z" fill="#990000" stroke="#000" stroke-width="1.0"/>
<path d="M717.50 129.49L720.70 134.69L714.30 134.69Z" fill="#990000" stroke="#000" stroke-width="1.0"/>
<path d="M752.25 107.23L755.45 112.43L749.05 112.43Z" fill="#990000" stroke="#000" stroke-width="1.0"/>
<path d="M787.00 86.44L790.20 91.64L783.80 91.64Z" fill="#990000" stroke="#000" stroke-width="1.0"/>
<path d="M821.75 66.28L824.95 71.48L818.55 71.48Z" fill="#990000" stroke="#000" stroke-width="1.0"/>
<path d="M856.50 42.97L859.70 48.17L853.30 48.17Z" fill="#990000" stroke="#000" stroke-width="1.0"/>
<circle cx="509.00" cy="262.50" r="3.6" fill="#111"/>
<path d="M509.00 259.92L511.56 264.08L506.44 264.08Z" fill="#990000" stroke="#000" stroke-width="1.0"/>
<text x="494.50" y="266.90" text-anchor="end" font-size="12" fill="#1a1a1a">0</text>
<text x="499.80" y="224.90" text-anchor="end" font-size="11.7" fill="#1a1a1a">2x10<tspan font-size="9.5" dy="-4.0">3</tspan></text>
<text x="499.80" y="182.90" text-anchor="end" font-size="11.7" fill="#1a1a1a">4x10<tspan font-size="9.5" dy="-4.0">3</tspan></text>
<text x="499.80" y="140.90" text-anchor="end" font-size="11.7" fill="#1a1a1a">6x10<tspan font-size="9.5" dy="-4.0">3</tspan></text>
<text x="499.80" y="98.90" text-anchor="end" font-size="11.7" fill="#1a1a1a">8x10<tspan font-size="9.5" dy="-4.0">3</tspan></text>
<text x="499.80" y="56.90" text-anchor="end" font-size="11.7" fill="#1a1a1a">10x10<tspan font-size="9.5" dy="-4.0">3</tspan></text>
<text x="499.80" y="14.90" text-anchor="end" font-size="11.7" fill="#1a1a1a">12x10<tspan font-size="9.5" dy="-4.0">3</tspan></text>
<text x="509.00" y="282.80" text-anchor="middle" font-size="12" fill="#1a1a1a">0</text>
<text x="578.50" y="282.80" text-anchor="middle" font-size="12" fill="#1a1a1a">200</text>
<text x="648.00" y="282.80" text-anchor="middle" font-size="12" fill="#1a1a1a">400</text>
<text x="717.50" y="282.80" text-anchor="middle" font-size="12" fill="#1a1a1a">600</text>
<text x="787.00" y="282.80" text-anchor="middle" font-size="12" fill="#1a1a1a">800</text>
<text x="856.50" y="282.80" text-anchor="middle" font-size="12" fill="#1a1a1a">1000</text>
<text x="681.50" y="305.00" text-anchor="middle" font-size="14" font-weight="bold" letter-spacing="0.2" fill="#111">Generations</text>
<text transform="translate(451.00,135.9) rotate(-90)" text-anchor="middle" font-size="14" font-weight="bold" fill="#111">Time GPU (ms)</text>
<rect x="865.50" y="10.50" width="153.00" height="146.50" fill="#fff" stroke="#333" stroke-width="1.5"/>
<line x1="872.5" y1="24.80" x2="926" y2="24.80" fill="none" stroke="#111" stroke-width="1.00"/>
<circle cx="899.00" cy="24.80" r="2.50" fill="#990000" stroke="#000" stroke-width="0.8"/>
<text x="938.3" y="28.60" font-size="12" fill="#1a1a1a">256 Agents</text>
<line x1="872.5" y1="39.63" x2="926" y2="39.63" fill="none" stroke="#222" stroke-width="1.05" stroke-dasharray="1.1 2.4"/>
<circle cx="899.00" cy="39.63" r="2.50" fill="#cccc00" stroke="#000" stroke-width="0.8"/>
<text x="938.3" y="43.43" font-size="12" fill="#1a1a1a">512 Agents</text>
<line x1="872.5" y1="54.46" x2="926" y2="54.46" fill="none" stroke="#1a1a1a" stroke-width="0.95" stroke-dasharray="7 3"/>
<path d="M899.00 57.06L902.20 51.86L895.80 51.86Z" fill="#990000" stroke="#000" stroke-width="0.8"/>
<text x="938.3" y="58.26" font-size="12" fill="#1a1a1a">1024 Agents</text>
<line x1="872.5" y1="69.29" x2="926" y2="69.29" fill="none" stroke="#777" stroke-width="1.30" stroke-dasharray="9 3 1 3 1 3"/>
<path d="M899.00 66.69L902.20 71.89L895.80 71.89Z" fill="#ff8c00" stroke="#000" stroke-width="1.0"/>
<text x="938.3" y="73.09" font-size="12" fill="#1a1a1a">2048 Agents</text>
<line x1="872.5" y1="84.12" x2="926" y2="84.12" fill="none" stroke="#1a1a1a" stroke-width="0.95" stroke-dasharray="13 5"/>
<rect x="896.35" y="81.47" width="5.30" height="5.30" fill="#a85a08" stroke="#000" stroke-width="0.8"/>
<text x="938.3" y="87.92" font-size="12" fill="#1a1a1a">4096 Agents</text>
<line x1="872.5" y1="98.95" x2="926" y2="98.95" fill="none" stroke="#777" stroke-width="1.30" stroke-dasharray="9 3 1 3"/>
<rect x="896.35" y="96.30" width="5.30" height="5.30" fill="#9c9c00" stroke="#000" stroke-width="0.8"/>
<text x="938.3" y="102.75" font-size="12" fill="#1a1a1a">8192 Agents</text>
<line x1="872.5" y1="113.78" x2="926" y2="113.78" fill="none" stroke="#1a1a1a" stroke-width="0.95" stroke-dasharray="10 4"/>
<path d="M899.00 109.93L902.85 113.78L899.00 117.63L895.15 113.78Z" fill="#990000" stroke="#000" stroke-width="0.8"/>
<text x="938.3" y="117.58" font-size="12" fill="#1a1a1a">16384 Agents</text>
<line x1="872.5" y1="128.61" x2="926" y2="128.61" fill="none" stroke="#555" stroke-width="1.70"/>
<path d="M899.00 124.76L902.85 128.61L899.00 132.46L895.15 128.61Z" fill="#cccc00" stroke="#000" stroke-width="0.8"/>
<text x="938.3" y="132.41" font-size="12" fill="#1a1a1a">32768 Agents</text>
<line x1="872.5" y1="143.44" x2="926" y2="143.44" fill="none" stroke="#222" stroke-width="1.05" stroke-dasharray="1.1 2.4"/>
<path d="M899.00 140.84L902.20 146.04L895.80 146.04Z" fill="#990000" stroke="#000" stroke-width="1.0"/>
<text x="938.3" y="147.24" font-size="12" fill="#1a1a1a">65536 Agents</text>
<text x="237.75" y="339.0" text-anchor="middle" font-family="'Liberation Serif', serif" font-size="26" font-weight="bold" fill="#000"><tspan font-weight="normal">(</tspan><tspan font-size="24.5">a</tspan><tspan font-weight="normal">)</tspan></text>
<text x="675.05" y="339.0" text-anchor="middle" font-family="'Liberation Serif', serif" font-size="26" font-weight="bold" fill="#000"><tspan font-weight="normal">(</tspan><tspan font-size="24.5">b</tspan><tspan font-weight="normal">)</tspan></text>
<path d="M667 342.5 l1.5 1 l1.5 -1 l1.5 1 l1.5 -1 l1.5 1 l1.5 -1 l1.5 1 l1.5 -1 l1.5 1 l1.5 -1 l1.5 1" fill="none" stroke="#3cb043" stroke-width="0.9"/>
</svg>
</body></html>
